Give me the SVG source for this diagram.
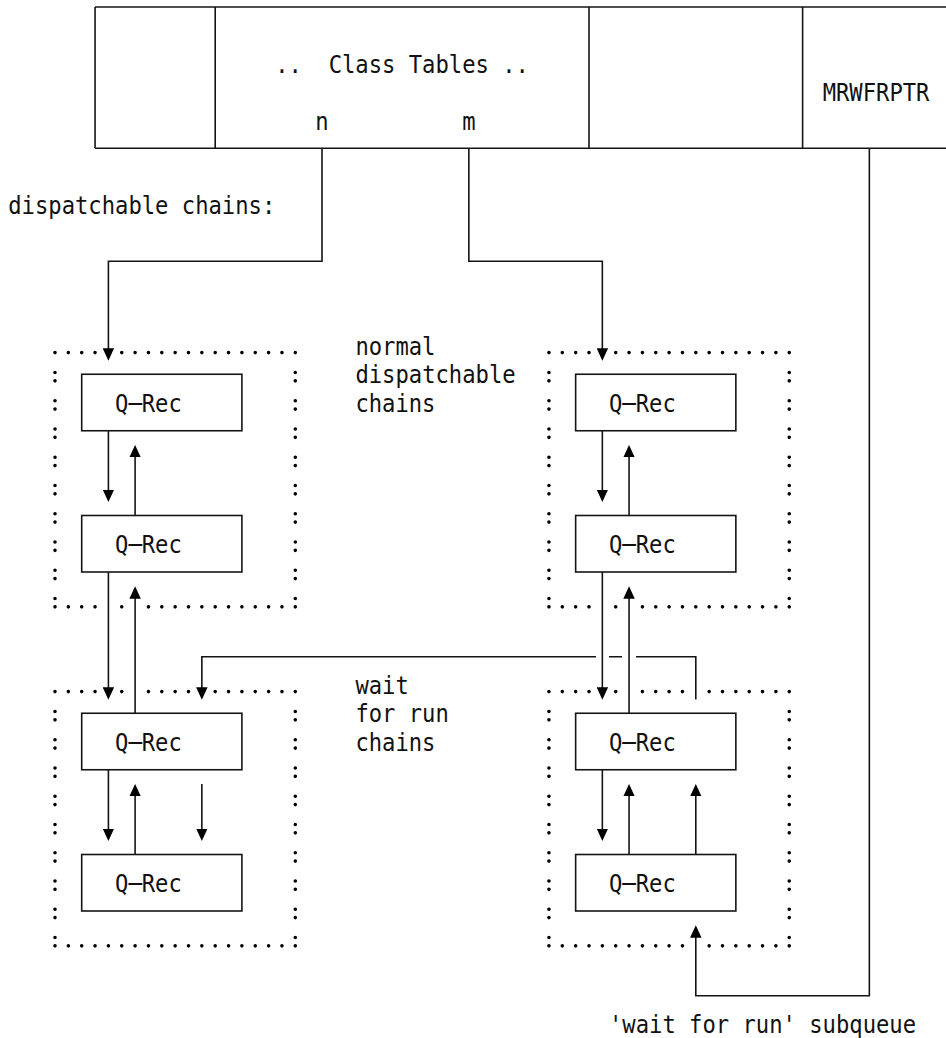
<svg xmlns="http://www.w3.org/2000/svg" width="946" height="1038" viewBox="0 0 946 1038">
  <style>
    .ln { fill: none; stroke: #141414; stroke-width: 1.6; }
    .box { fill: #ffffff; stroke: #141414; stroke-width: 1.6; }
    .dots { fill: none; stroke: #000; stroke-width: 3.6; stroke-linecap: round; stroke-dasharray: 0 13.35; }
    .colons { fill: none; stroke: #000; stroke-width: 3.6; stroke-linecap: round; stroke-dasharray: 0 8.4 0 19.85; }
    .dot { fill: #000; }
    text { font-family: "DejaVu Sans Mono", "Liberation Mono", monospace; font-size: 24px; fill: #111; }
  </style>
  <defs>
    <marker id="arrow" viewBox="0 0 12.5 11.5" refX="6.25" refY="5.75" markerWidth="12.5" markerHeight="11.5" markerUnits="userSpaceOnUse" orient="auto">
      <path d="M0,0 L12.5,5.75 L0,11.5 Z" fill="#000"/>
    </marker>
  </defs>

  <!-- class table row at the top -->
  <g id="class-table">
    <path class="ln" d="M95.05,7 H946 M95.05,148.25 H946 M95.05,7 V148.25 M215.2,7 V148.25 M589,7 V148.25 M802.6,7 V148.25"/>
    <text x="275.275" y="72.5" textLength="253.65" lengthAdjust="spacingAndGlyphs" xml:space="preserve">..  Class Tables ..</text>
    <text x="315.325" y="129.5" textLength="13.35" lengthAdjust="spacingAndGlyphs">n</text>
    <text x="462.175" y="129.5" textLength="13.35" lengthAdjust="spacingAndGlyphs">m</text>
    <text x="822.625" y="100.75" textLength="106.8" lengthAdjust="spacingAndGlyphs">MRWFRPTR</text>
  </g>

  <g id="label-dispatchable">
    <text x="8.275" y="213.75" textLength="267" lengthAdjust="spacingAndGlyphs">dispatchable chains:</text>
  </g>

  <g id="label-normal">
    <text x="355.375" y="355" textLength="80.1" lengthAdjust="spacingAndGlyphs">normal</text>
    <text x="355.375" y="383.25" textLength="160.2" lengthAdjust="spacingAndGlyphs">dispatchable</text>
    <text x="355.375" y="411.5" textLength="80.1" lengthAdjust="spacingAndGlyphs">chains</text>
  </g>

  <g id="label-wait">
    <text x="355.375" y="694" textLength="53.4" lengthAdjust="spacingAndGlyphs">wait</text>
    <text x="355.375" y="722.25" textLength="93.45" lengthAdjust="spacingAndGlyphs">for run</text>
    <text x="355.375" y="750.5" textLength="80.1" lengthAdjust="spacingAndGlyphs">chains</text>
  </g>

  <g id="label-subqueue">
    <text x="609.025" y="1033" textLength="307.05" lengthAdjust="spacingAndGlyphs">'wait for run' subqueue</text>
  </g>

  <!-- dotted chain frames -->
  <g id="chain-normal-n">
    <line class="dots" x1="55" y1="352.6" x2="95.3" y2="352.6"/>
    <line class="dots" x1="121.75" y1="352.6" x2="295.5" y2="352.6"/>
    <path class="colons" d="M55,372.45 V607.2 M295.3,372.45 V607.2"/>
    <line class="dots" x1="68.35" y1="606.85" x2="95.3" y2="606.85"/>
    <circle class="dot" cx="121.75" cy="606.85" r="1.8"/>
    <line class="dots" x1="148.45" y1="606.85" x2="282.2" y2="606.85"/>
  </g>

  <g id="chain-normal-m">
    <line class="dots" x1="548.95" y1="352.6" x2="589.2" y2="352.6"/>
    <line class="dots" x1="615.7" y1="352.6" x2="789.5" y2="352.6"/>
    <path class="colons" d="M548.95,372.45 V607.2 M789.25,372.45 V607.2"/>
    <line class="dots" x1="562.3" y1="606.85" x2="589.2" y2="606.85"/>
    <circle class="dot" cx="615.7" cy="606.85" r="1.8"/>
    <line class="dots" x1="642.4" y1="606.85" x2="776.1" y2="606.85"/>
  </g>

  <g id="chain-wait-n">
    <line class="dots" x1="55" y1="691.6" x2="95.3" y2="691.6"/>
    <circle class="dot" cx="121.75" cy="691.6" r="1.8"/>
    <line class="dots" x1="148.45" y1="691.6" x2="188.7" y2="691.6"/>
    <line class="dots" x1="215.2" y1="691.6" x2="295.5" y2="691.6"/>
    <path class="colons" d="M55,711.45 V946.2 M295.3,711.45 V946.2"/>
    <line class="dots" x1="68.35" y1="945.85" x2="282.2" y2="945.85"/>
  </g>

  <g id="chain-wait-m">
    <line class="dots" x1="548.95" y1="691.6" x2="589.2" y2="691.6"/>
    <circle class="dot" cx="615.7" cy="691.6" r="1.8"/>
    <line class="dots" x1="642.4" y1="691.6" x2="682.7" y2="691.6"/>
    <line class="dots" x1="709.15" y1="691.6" x2="789.5" y2="691.6"/>
    <path class="colons" d="M548.95,711.45 V946.2 M789.25,711.45 V946.2"/>
    <line class="dots" x1="562.3" y1="945.85" x2="682.7" y2="945.85"/>
    <line class="dots" x1="709.15" y1="945.85" x2="776.1" y2="945.85"/>
  </g>

  <!-- queue records -->
  <g id="qrec-n1">
    <rect class="box" x="81.7" y="374.25" width="160.2" height="56.5"/>
    <text x="115.075" y="411.5" textLength="66.75" lengthAdjust="spacingAndGlyphs">Q─Rec</text>
  </g>
  <g id="qrec-n2">
    <rect class="box" x="81.7" y="515.5" width="160.2" height="56.5"/>
    <text x="115.075" y="552.75" textLength="66.75" lengthAdjust="spacingAndGlyphs">Q─Rec</text>
  </g>
  <g id="qrec-n3">
    <rect class="box" x="81.7" y="713.25" width="160.2" height="56.5"/>
    <text x="115.075" y="750.5" textLength="66.75" lengthAdjust="spacingAndGlyphs">Q─Rec</text>
  </g>
  <g id="qrec-n4">
    <rect class="box" x="81.7" y="854.5" width="160.2" height="56.5"/>
    <text x="115.075" y="891.75" textLength="66.75" lengthAdjust="spacingAndGlyphs">Q─Rec</text>
  </g>
  <g id="qrec-m1">
    <rect class="box" x="575.65" y="374.25" width="160.2" height="56.5"/>
    <text x="609.025" y="411.5" textLength="66.75" lengthAdjust="spacingAndGlyphs">Q─Rec</text>
  </g>
  <g id="qrec-m2">
    <rect class="box" x="575.65" y="515.5" width="160.2" height="56.5"/>
    <text x="609.025" y="552.75" textLength="66.75" lengthAdjust="spacingAndGlyphs">Q─Rec</text>
  </g>
  <g id="qrec-m3">
    <rect class="box" x="575.65" y="713.25" width="160.2" height="56.5"/>
    <text x="609.025" y="750.5" textLength="66.75" lengthAdjust="spacingAndGlyphs">Q─Rec</text>
  </g>
  <g id="qrec-m4">
    <rect class="box" x="575.65" y="854.5" width="160.2" height="56.5"/>
    <text x="609.025" y="891.75" textLength="66.75" lengthAdjust="spacingAndGlyphs">Q─Rec</text>
  </g>

  <!-- connectors -->
  <g id="connectors">
    <path class="ln" marker-end="url(#arrow)" d="M322,148.25 V261.25 H108.4 V354.5"/>
    <path class="ln" marker-end="url(#arrow)" d="M468.85,148.25 V261.25 H602.35 V354.5"/>
    <path class="ln" marker-end="url(#arrow)" d="M869.35,148.25 V995.75 H695.8 V931.45"/>

    <path class="ln" marker-end="url(#arrow)" d="M108.4,430.75 V495.75"/>
    <path class="ln" marker-end="url(#arrow)" d="M135.1,515.5 V451.2"/>
    <path class="ln" marker-end="url(#arrow)" d="M108.4,572 V693.5"/>
    <path class="ln" marker-end="url(#arrow)" d="M135.1,713.25 V592.45"/>
    <path class="ln" marker-end="url(#arrow)" d="M108.4,769.75 V834.75"/>
    <path class="ln" marker-end="url(#arrow)" d="M135.1,854.5 V790.2"/>
    <path class="ln" marker-end="url(#arrow)" d="M201.85,783.9 V834.75"/>

    <path class="ln" marker-end="url(#arrow)" d="M602.35,430.75 V495.75"/>
    <path class="ln" marker-end="url(#arrow)" d="M629.05,515.5 V451.2"/>
    <path class="ln" marker-end="url(#arrow)" d="M602.35,572 V693.5"/>
    <path class="ln" marker-end="url(#arrow)" d="M629.05,713.25 V592.45"/>
    <path class="ln" marker-end="url(#arrow)" d="M602.35,769.75 V834.75"/>
    <path class="ln" marker-end="url(#arrow)" d="M629.05,854.5 V790.2"/>
    <path class="ln" marker-end="url(#arrow)" d="M695.8,854.5 V790.2"/>

    <path class="ln" marker-end="url(#arrow)" d="M695.8,699.5 V656.75 H636 M622,656.75 H609 M596,656.75 H201.85 V693.5"/>
  </g>
</svg>
